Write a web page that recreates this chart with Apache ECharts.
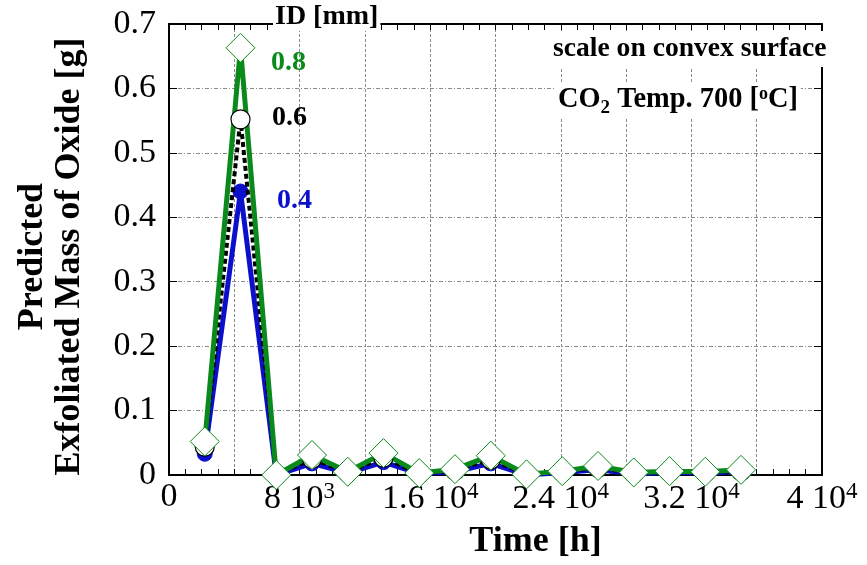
<!DOCTYPE html>
<html>
<head>
<meta charset="utf-8">
<style>
  html, body { margin: 0; padding: 0; background: #fff; }
  #chart { width: 867px; height: 565px; }
</style>
<script src="https://cdn.jsdelivr.net/npm/echarts@6/dist/echarts.min.js"></script>
</head>
<body>
<div id="chart"></div>
<script>
// time points [h] (quarter-year steps)
var times = [2190, 4380, 6570, 8760, 10950, 13140, 15330, 17520, 19710, 21900, 24090, 26280, 28470, 30660, 32850, 35040];
// predicted exfoliated mass [g] for each inner diameter
var mass08 = [0.052, 0.663, 0.0, 0.031, 0.005, 0.034, 0.003, 0.009, 0.030, 0.001, 0.006, 0.014, 0.004, 0.006, 0.005, 0.008];
var mass06 = [0.044, 0.552, 0.0, 0.025, 0.004, 0.027, 0.002, 0.007, 0.024, 0.001, 0.005, 0.011, 0.003, 0.005, 0.004, 0.006];
var mass04 = [0.033, 0.440, 0.0, 0.018, 0.003, 0.020, 0.002, 0.005, 0.018, 0.000, 0.004, 0.008, 0.002, 0.004, 0.003, 0.005];
// x tick labels every 8000 h
var xTickLabels = ['0', '8 10{sup|3}', '1.6 10{sup|4}', '2.4 10{sup|4}', '3.2 10{sup|4}', '4 10{sup|4}'];

var GREEN = '#0a8a1a';
var BLUE = '#0c10cc';
var SERIF = '"Liberation Serif", "Times New Roman", serif';

function pairs(ys) {
    return times.map(function(t, i) { return [t, ys[i]]; });
}

var chart = echarts.init(document.getElementById('chart'));

var option = {
    backgroundColor: '#fff',
    animation: false,
    grid: { left: 169, right: 45, top: 24, bottom: 88 },
    xAxis: [{
        type: 'value',
        min: 0, max: 40000, interval: 4000,
        name: 'Time [h]',
        nameLocation: 'middle',
        nameGap: 49,
        nameTextStyle: { fontFamily: SERIF, fontWeight: 'bold', fontSize: 36, color: '#000', padding: [0, 0, 0, 80] },
        axisLine: { onZero: false, lineStyle: { color: '#000', width: 2 } },
        axisTick: { inside: true, length: 6, lineStyle: { color: '#000' } },
        minorTick: { show: true, splitNumber: 4, length: 6, lineStyle: { color: '#000' } },
        splitLine: { show: true, lineStyle: { color: '#8a8a8a', type: [3, 2], width: 1 } },
        axisLabel: {
            margin: 5,
            fontFamily: SERIF, fontSize: 34, color: '#000',
            formatter: function(v) {
                return v % 8000 === 0 ? xTickLabels[v / 8000] : '';
            },
            rich: { sup: { fontFamily: SERIF, fontSize: 23, color: '#000', padding: [0, 0, 15, 0] } }
        }
    }, {
        type: 'value', position: 'top',
        min: 0, max: 40000, interval: 4000,
        axisLine: { onZero: false, lineStyle: { color: '#000', width: 2 } },
        axisTick: { inside: true, length: 6, lineStyle: { color: '#000' } },
        minorTick: { show: true, splitNumber: 4, length: 6, lineStyle: { color: '#000' } },
        axisLabel: { show: false },
        splitLine: { show: false }
    }],
    yAxis: [{
        type: 'value',
        min: 0, max: 0.7, interval: 0.1,
        name: 'Predicted\nExfoliated Mass of Oxide [g]',
        nameLocation: 'middle',
        nameRotate: 90,
        nameGap: 81,
        nameTextStyle: { fontFamily: SERIF, fontWeight: 'bold', fontSize: 36, color: '#000', lineHeight: 37, padding: [0, 14, 0, 0] },
        axisLine: { onZero: false, lineStyle: { color: '#000', width: 2 } },
        axisTick: { inside: true, length: 8, lineStyle: { color: '#000' } },
        splitLine: { show: true, lineStyle: { color: '#8a8a8a', type: [4, 2, 1, 2], width: 1 } },
        axisLabel: { margin: 13, fontFamily: SERIF, fontSize: 34, color: '#000' }
    }, {
        type: 'value', position: 'right',
        min: 0, max: 0.7, interval: 0.1,
        axisLine: { onZero: false, lineStyle: { color: '#000', width: 2 } },
        axisTick: { inside: true, length: 8, lineStyle: { color: '#000' } },
        axisLabel: { show: false },
        splitLine: { show: false }
    }],
    series: [{
        name: '0.4',
        type: 'line',
        data: pairs(mass04),
        z: 2,
        symbol: 'circle', symbolSize: 15,
        lineStyle: { color: BLUE, width: 5 },
        itemStyle: { color: BLUE, borderColor: BLUE, borderWidth: 1 }
    }, {
        name: '0.6 line',
        type: 'line',
        data: pairs(mass06),
        z: 3,
        showSymbol: false,
        lineStyle: { color: '#000', width: 4, type: [5, 3] }
    }, {
        name: '0.8 line',
        type: 'line',
        data: pairs(mass08),
        z: 4,
        showSymbol: false,
        lineStyle: { color: GREEN, width: 5 }
    }, {
        name: '0.6',
        type: 'scatter',
        data: pairs(mass06),
        z: 5,
        symbol: 'circle', symbolSize: 19,
        itemStyle: { color: '#fff', borderColor: '#000', borderWidth: 1.2, opacity: 1 }
    }, {
        name: '0.8',
        type: 'scatter',
        data: pairs(mass08),
        z: 6,
        symbol: 'diamond', symbolSize: [29, 29],
        itemStyle: { color: '#fff', borderColor: GREEN, borderWidth: 1, opacity: 1 }
    }],
    graphic: [{
        type: 'text', z: 100,
        left: 273, top: 3,
        style: { text: 'ID [mm]', font: 'bold 28px ' + SERIF, fill: '#000', backgroundColor: '#fff', padding: [0, 2] }
    }, {
        type: 'text', z: 100,
        left: 271, top: 49,
        style: { text: '0.8', font: 'bold 28px ' + SERIF, fill: GREEN }
    }, {
        type: 'text', z: 100,
        left: 272, top: 104,
        style: { text: '0.6', font: 'bold 28px ' + SERIF, fill: '#000' }
    }, {
        type: 'text', z: 100,
        left: 277, top: 187,
        style: { text: '0.4', font: 'bold 28px ' + SERIF, fill: BLUE }
    }, {
        type: 'text', z: 100,
        left: 551, top: 31,
        style: { text: 'scale on convex surface', font: 'bold 27.6px ' + SERIF, fill: '#000', backgroundColor: '#fff', padding: [4, 2] }
    }, {
        type: 'text', z: 100,
        left: 555, top: 83,
        style: {
            text: 'CO{sub|2} Temp. 700 [{sup|o}C]',
            font: 'bold 28.4px ' + SERIF, fill: '#000', backgroundColor: '#fff', padding: [2, 3],
            rich: {
                sub: { font: 'bold 19px ' + SERIF, fill: '#000', padding: [0, 0, -16, 0] },
                sup: { font: 'bold 18px ' + SERIF, fill: '#000', padding: [0, 0, 12, 0] }
            }
        }
    }]
};

chart.setOption(option);
</script>
</body>
</html>
